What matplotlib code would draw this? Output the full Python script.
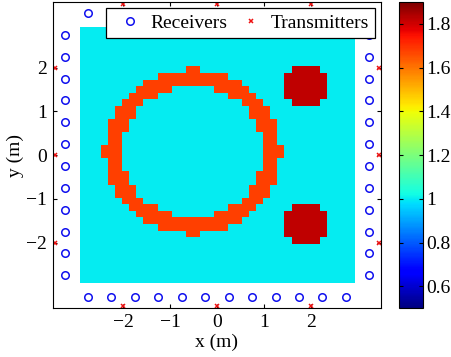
import numpy as np
import matplotlib
matplotlib.use("Agg")
import matplotlib.pyplot as plt

plt.rcParams["font.family"] = ["Liberation Serif", "DejaVu Serif"]
plt.rcParams["font.size"] = 14

# imaging grid (cell centres, m)
cell = 0.15
grid_idx = np.arange(-19, 20)
background_eps = 1.0

# scatterers: ring and two disks
ring_center = (-0.525, 0.075)
ring_r_inner = 1.5
ring_r_outer = 1.88
ring_eps = 1.68

disk_centers = [(1.875, 1.575), (1.875, -1.575)]
disk_radius = 0.5
disk_eps = 1.82

# antenna positions along each side of the domain
rx_offsets = [-2.75, -2.25, -1.75, -1.25, -0.75, -0.25, 0.25, 0.75, 1.25, 1.75, 2.25, 2.75]
rx_edge = 3.25
tx_offsets = [-2.0, 0.0, 2.0]
tx_edge = 3.45

clim = (0.5, 1.9)
cbar_ticks = [0.6, 0.8, 1.0, 1.2, 1.4, 1.6, 1.8]


def build_profile():
    centers = grid_idx * cell
    xx, yy = np.meshgrid(centers, centers)
    eps = np.full(xx.shape, background_eps)
    d = np.hypot(xx - ring_center[0], yy - ring_center[1])
    eps[(d >= ring_r_inner) & (d <= ring_r_outer)] = ring_eps
    for cx, cy in disk_centers:
        eps[np.hypot(xx - cx, yy - cy) <= disk_radius] = disk_eps
    half = (grid_idx[-1] + 0.5) * cell
    return eps, half


def perimeter(offsets, edge):
    offs = np.asarray(offsets)
    xs = np.concatenate([offs, np.full_like(offs, edge), offs, np.full_like(offs, -edge)])
    ys = np.concatenate([np.full_like(offs, edge), offs, np.full_like(offs, -edge), offs])
    return xs, ys


eps, half = build_profile()

fig = plt.figure(figsize=(4.52, 3.57), dpi=100)
ax = fig.add_axes([0.117, 0.137, 0.726, 0.857])
cax = fig.add_axes([0.883, 0.137, 0.053, 0.857])

im = ax.imshow(eps, origin="lower", extent=[-half, half, -half, half], cmap="jet",
               vmin=clim[0], vmax=clim[1], interpolation="nearest", aspect="auto")

rx_x, rx_y = perimeter(rx_offsets, rx_edge)
tx_x, tx_y = perimeter(tx_offsets, tx_edge)
ax.plot(rx_x, rx_y, "o", ls="none", mfc="none", mec="#1010ee", ms=5.4, mew=1.1, label="Receivers")
ax.plot(tx_x, tx_y, "x", ls="none", color="#ee1111", ms=3.5, mew=1.1, label="Transmitters")

ax.set_xlim(-3.5, 3.5)
ax.set_ylim(-3.5, 3.5)
ax.set_xticks([-2, -1, 0, 1, 2])
ax.set_yticks([-2, -1, 0, 1, 2])
ax.tick_params(direction="in", top=True, right=True, length=3, width=0.8, pad=4)
ax.set_xlabel("x (m)", labelpad=2)
ax.set_ylabel("y (m)", labelpad=2)

leg = ax.legend(loc="upper right", ncol=2, bbox_to_anchor=(0.982, 0.98),
                fancybox=False, framealpha=1, edgecolor="black", borderpad=0.3,
                handletextpad=0.1, columnspacing=0.3, handlelength=1.85,
                borderaxespad=0.0)
leg.get_frame().set_linewidth(0.9)

cbar = fig.colorbar(im, cax=cax, ticks=cbar_ticks)
cbar.ax.set_yticklabels([f"{t:g}" for t in cbar_ticks])
cbar.ax.tick_params(direction="in", left=True, right=True, length=3, width=0.8, pad=2)
cbar.outline.set_linewidth(0.8)

fig.savefig("out.png", dpi=100)
